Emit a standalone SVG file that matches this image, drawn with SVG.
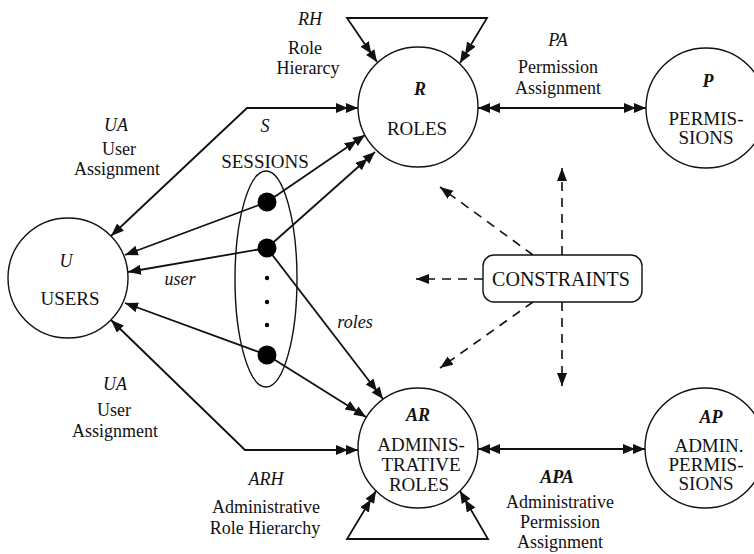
<svg xmlns="http://www.w3.org/2000/svg" width="754" height="554" viewBox="0 0 754 554">
  <style>
    text { font-family: "Liberation Serif", "Times New Roman", serif; font-size: 18px; fill: #111; text-anchor: middle; }
    .it { font-style: italic; }
    .itb { font-style: italic; font-weight: bold; }
    .cap { font-size: 19px; }
    .node { fill: #fff; stroke: #111; stroke-width: 1.4; }
    .edge { fill: none; stroke: #111; stroke-width: 1.8; }
    .dash { fill: none; stroke: #111; stroke-width: 1.6; stroke-dasharray: 9 7; }
    .dot { fill: #000; }
  </style>
  <defs>
    <marker id="one" markerUnits="userSpaceOnUse" markerWidth="14" markerHeight="11" refX="13" refY="5" orient="auto-start-reverse">
      <path d="M0,0 L13,5 L0,10 Z" fill="#111"/>
    </marker>
    <marker id="two" markerUnits="userSpaceOnUse" markerWidth="23" markerHeight="11" refX="22" refY="5" orient="auto-start-reverse">
      <path d="M0,0 L12,5 L0,10 Z M10,0 L22,5 L10,10 Z" fill="#111"/>
    </marker>
    <marker id="dhead" markerUnits="userSpaceOnUse" markerWidth="14" markerHeight="11" refX="13" refY="5" orient="auto">
      <path d="M0,0 L13,5 L0,10 Z" fill="#111"/>
    </marker>
  </defs>

  <!-- connectors -->
  <g id="connectors">
    <!-- user assignment (top) -->
    <polyline class="edge" points="111,236 247,108 358,108" marker-start="url(#one)" marker-end="url(#two)"/>
    <!-- user assignment (bottom) -->
    <polyline class="edge" points="111,320 245,450 358,450" marker-start="url(#one)" marker-end="url(#two)"/>
    <!-- role hierarchy loop -->
    <polyline class="edge" points="377,62 347,18 487,18 460,63" marker-start="url(#two)" marker-end="url(#two)"/>
    <!-- administrative role hierarchy loop -->
    <polyline class="edge" points="376,491 347,539 488,539 460,491" marker-start="url(#two)" marker-end="url(#two)"/>
    <!-- permission assignments -->
    <line class="edge" x1="478" y1="108" x2="646" y2="108" marker-start="url(#two)" marker-end="url(#two)"/>
    <line class="edge" x1="478" y1="449" x2="645" y2="449" marker-start="url(#two)" marker-end="url(#two)"/>
    <!-- session: user and roles -->
    <line class="edge" x1="267" y1="202" x2="125" y2="255" marker-end="url(#one)"/>
    <line class="edge" x1="267" y1="202" x2="365" y2="135" marker-end="url(#two)"/>
    <line class="edge" x1="267" y1="248" x2="128" y2="272" marker-end="url(#one)"/>
    <line class="edge" x1="267" y1="248" x2="375" y2="152" marker-end="url(#two)"/>
    <line class="edge" x1="267" y1="248" x2="383" y2="399" marker-end="url(#two)"/>
    <line class="edge" x1="267" y1="355" x2="125" y2="303" marker-end="url(#one)"/>
    <line class="edge" x1="267" y1="355" x2="366" y2="417" marker-end="url(#two)"/>
    <!-- constraints -->
    <line class="dash" x1="562" y1="255" x2="562" y2="168" marker-end="url(#dhead)"/>
    <line class="dash" x1="533" y1="255" x2="440" y2="187" marker-end="url(#dhead)"/>
    <line class="dash" x1="483" y1="279" x2="416" y2="279" marker-end="url(#dhead)"/>
    <line class="dash" x1="533" y1="302" x2="440" y2="368" marker-end="url(#dhead)"/>
    <line class="dash" x1="562" y1="302" x2="562" y2="386" marker-end="url(#dhead)"/>
  </g>

  <!-- relation labels -->
  <g id="labels">
    <text class="it" x="310" y="25">RH</text>
    <text x="305" y="54">Role</text>
    <text x="308" y="74">Hierarcy</text>
    <text class="it" x="116" y="131">UA</text>
    <text x="119" y="155">User</text>
    <text x="117" y="175">Assignment</text>
    <text class="it" x="180" y="285">user</text>
    <text class="it" x="355" y="328">roles</text>
    <text class="it" x="115" y="390">UA</text>
    <text x="114" y="416">User</text>
    <text x="115" y="437">Assignment</text>
    <text class="it" x="266" y="485">ARH</text>
    <text x="266" y="513">Administrative</text>
    <text x="265" y="534">Role Hierarchy</text>
    <text class="it" x="558" y="46">PA</text>
    <text x="558" y="73">Permission</text>
    <text x="558" y="94">Assignment</text>
    <text class="itb" x="557" y="483">APA</text>
    <text x="560" y="508">Administrative</text>
    <text x="560" y="528">Permission</text>
    <text x="560" y="548">Assignment</text>
  </g>

  <g id="users">
    <circle class="node" cx="68" cy="278" r="60"/>
    <text class="it" x="66" y="267">U</text>
    <text class="cap" x="70" y="305">USERS</text>
  </g>

  <g id="sessions">
    <text class="it" x="265" y="132">S</text>
    <text class="cap" x="265" y="168">SESSIONS</text>
    <ellipse cx="266" cy="279" rx="31" ry="108" fill="none" stroke="#111" stroke-width="1.4"/>
    <circle class="dot" cx="267" cy="202" r="9.5"/>
    <circle class="dot" cx="267" cy="248" r="9.5"/>
    <circle class="dot" cx="267" cy="278" r="2.2"/>
    <circle class="dot" cx="267" cy="302" r="2.2"/>
    <circle class="dot" cx="267" cy="325" r="2.2"/>
    <circle class="dot" cx="267" cy="355" r="9.5"/>
  </g>

  <g id="roles">
    <circle class="node" cx="418" cy="107" r="60"/>
    <text class="itb" x="420" y="95">R</text>
    <text class="cap" x="417" y="135">ROLES</text>
  </g>

  <g id="permissions">
    <circle class="node" cx="706" cy="108" r="60"/>
    <text class="itb" x="708" y="87">P</text>
    <text class="cap" x="706" y="125">PERMIS-</text>
    <text class="cap" x="706" y="144">SIONS</text>
  </g>

  <g id="admin-roles">
    <circle class="node" cx="418" cy="448" r="60"/>
    <text class="itb" x="418" y="421">AR</text>
    <text class="cap" x="421" y="451">ADMINIS-</text>
    <text class="cap" x="421" y="471">TRATIVE</text>
    <text class="cap" x="419" y="491">ROLES</text>
  </g>

  <g id="admin-permissions">
    <circle class="node" cx="705" cy="448" r="60"/>
    <text class="itb" x="711" y="423">AP</text>
    <text class="cap" x="709" y="452">ADMIN.</text>
    <text class="cap" x="706" y="471">PERMIS-</text>
    <text class="cap" x="706" y="490">SIONS</text>
  </g>

  <g id="constraints">
    <rect x="483" y="255" width="159" height="47" rx="11" fill="#fff" stroke="#111" stroke-width="1.4"/>
    <text x="561" y="286" style="font-size:20px">CONSTRAINTS</text>
  </g>
</svg>
